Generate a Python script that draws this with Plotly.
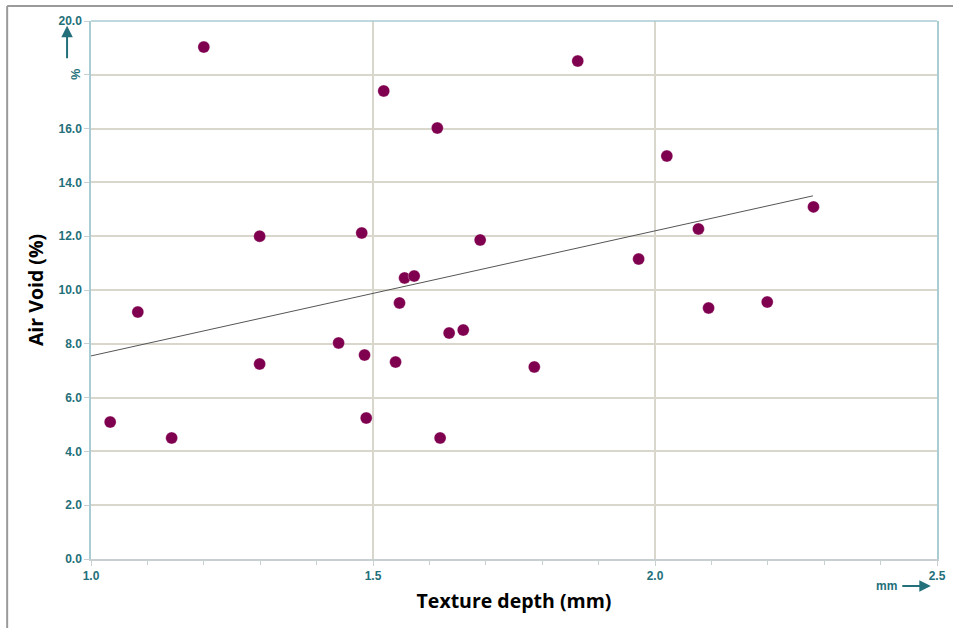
import plotly.graph_objects as go

texture_depth = [1.034, 1.083, 1.143, 1.200, 1.299, 1.299, 1.439, 1.480, 1.485, 1.488,
                 1.519, 1.540, 1.547, 1.556, 1.573, 1.614, 1.619, 1.635, 1.660, 1.690,
                 1.786, 1.863, 1.971, 2.021, 2.077, 2.095, 2.199, 2.281]
air_void = [5.09, 9.18, 4.50, 19.03, 12.00, 7.25, 8.03, 12.12, 7.58, 5.24,
            17.40, 7.32, 9.52, 10.45, 10.52, 16.02, 4.50, 8.40, 8.51, 11.86,
            7.14, 18.51, 11.15, 14.98, 12.27, 9.33, 9.55, 13.09]

trend_x = [1.0, 2.28]
trend_y = [7.55, 13.50]

y_tickvals = [0, 2, 4, 6, 8, 10, 12, 14, 16, 18, 20]
y_ticktext = ["0.0", "2.0", "4.0", "6.0", "8.0", "10.0", "12.0", "14.0", "16.0", "", "20.0"]
x_tickvals = [1.0, 1.5, 2.0, 2.5]
x_ticktext = ["1.0", "1.5", "2.0", "2.5"]

TEAL = "#236f7a"
AXIS_TEAL = "#a9cdd3"
GRID = "#d9d6cc"

fig = go.Figure()
fig.add_trace(go.Scatter(x=trend_x, y=trend_y, mode="lines",
                         line=dict(color="#555555", width=1), hoverinfo="skip"))
fig.add_trace(go.Scatter(x=texture_depth, y=air_void, mode="markers",
                         marker=dict(color="#800050", size=12,
                                     line=dict(color="rgba(255,255,255,0.6)", width=0.5))))

fig.update_layout(
    width=953, height=628,
    margin=dict(l=91, r=7, t=21, b=69),
    paper_bgcolor="white", plot_bgcolor="white",
    showlegend=False,
    font=dict(family="Open Sans, sans-serif"),
)

fig.update_xaxes(
    range=[1.0, 2.5], tickvals=x_tickvals, ticktext=x_ticktext,
    showgrid=True, gridcolor=GRID, gridwidth=1.5,
    showline=True, linecolor="#c8cfd0", linewidth=1.5,
    ticks="outside", ticklen=5, tickcolor="#c8cfd0",
    minor=dict(dtick=0.1, ticks="outside", ticklen=4, tickcolor="#c8cfd0", showgrid=False),
    tickfont=dict(family="Liberation Sans, Arial", size=12, color=TEAL, weight="bold"),
    title=dict(text="Texture depth (mm)", standoff=12,
               font=dict(family="Open Sans", size=19.5, color="black", weight="bold")),
    zeroline=False,
)
fig.update_yaxes(
    range=[0, 20], tickvals=y_tickvals, ticktext=y_ticktext,
    showgrid=True, gridcolor=GRID, gridwidth=1.5,
    showline=True, linecolor=AXIS_TEAL, linewidth=1.5, mirror=True,
    ticks="outside", ticklen=5, tickcolor="#c8cfd0",
    tickfont=dict(family="Liberation Sans, Arial", size=12, color=TEAL, weight="bold"),
    title=dict(text="Air Void (%)", standoff=10,
               font=dict(family="Open Sans", size=19.5, color="black", weight="bold")),
    zeroline=False,
)

shapes = [
    # top frame line
    dict(type="line", xref="paper", yref="paper", x0=0, x1=1, y0=1, y1=1,
         line=dict(color=AXIS_TEAL, width=1.5)),
    # outer border (left and top)
    dict(type="line", xref="paper", yref="paper", x0=-0.0991, x1=-0.0991, y0=1.0279, y1=-0.2,
         line=dict(color="#9a9a9a", width=2)),
    dict(type="line", xref="paper", yref="paper", x0=-0.0991, x1=1.1, y0=1.0279, y1=1.0279,
         line=dict(color="#9a9a9a", width=2)),
]
fig.update_layout(shapes=shapes)

annotations = [
    # y-axis unit arrow
    dict(xref="paper", yref="y", x=-0.0283, y=19.82, ax=0, ay=34, text="",
         showarrow=True, arrowhead=2, arrowsize=1.15, arrowwidth=2, arrowcolor=TEAL),
    dict(xref="paper", yref="y", x=-0.0283, y=18.0, text="%", showarrow=False,
         textangle=-90, font=dict(family="Liberation Sans, Arial", size=12.5, color=TEAL, weight="bold")),
    # x-axis unit arrow
    dict(xref="x", yref="paper", x=2.489, y=-0.0502, ax=-30, ay=0, text="",
         showarrow=True, arrowhead=2, arrowsize=1.15, arrowwidth=2, arrowcolor=TEAL),
    dict(xref="x", yref="paper", x=2.433, y=-0.0502, text="mm", showarrow=False,
         xanchor="right", yanchor="middle",
         font=dict(family="Liberation Sans, Arial", size=12, color=TEAL, weight="bold")),
]
fig.update_layout(annotations=annotations)

fig.write_html("out.html", config={"displayModeBar": False},
               post_script="document.body.style.margin='0';")
